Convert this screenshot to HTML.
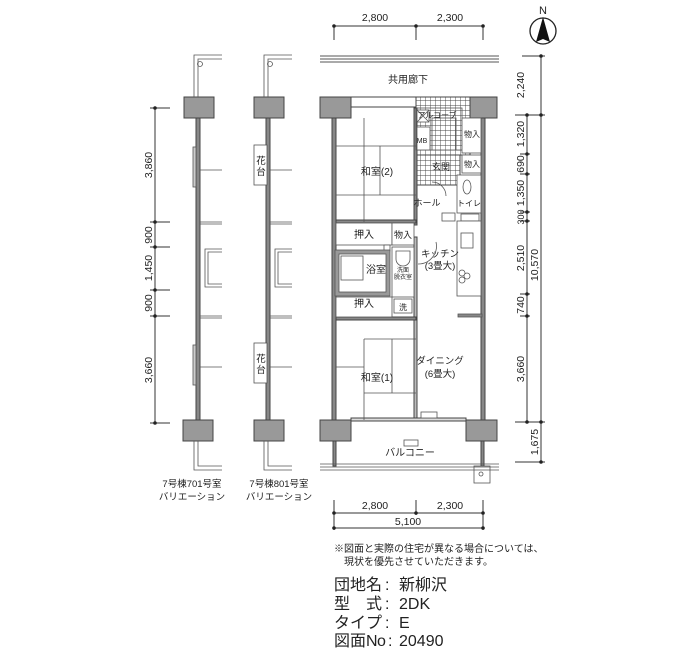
<!DOCTYPE html><html><head><meta charset="utf-8"><style>body{margin:0;background:#fff}svg{display:block}text{font-family:"Liberation Sans","Noto Sans CJK JP",sans-serif;fill:#222}</style></head><body>
<svg width="700" height="650" viewBox="0 0 700 650" xmlns="http://www.w3.org/2000/svg">
<defs><pattern id="g" width="5" height="5" patternUnits="userSpaceOnUse"><rect width="5" height="5" fill="#fff"/><path d="M0 0H5M0 0V5" stroke="#444" stroke-width="0.9"/></pattern></defs>
<g stroke="#333" stroke-width="1" fill="none">
<path d="M334 26H483M334 26V40M416 26V40M483 26V40"/>
<path d="M320 56H499M320 59H499M320 62H499" stroke="#555"/>
<path d="M527 115V422M541 56V462M522 56H545M515 115H545M515 422H545M515 462H545"/>
<path d="M520 154H530M520 174H530M520 212H530M520 221H530M520 294H530M520 316H530"/>
<path d="M334 513H483M334 528H483M334 500V530M416 500V515M483 500V530"/>
<path d="M155 108V423M150 108H170M150 222H170M150 247H170M150 290H170M150 316H170M150 423H170"/>
</g>
<g fill="#222">
<circle cx="334" cy="26" r="1.8"/><circle cx="416" cy="26" r="1.8"/><circle cx="483" cy="26" r="1.8"/>
<circle cx="334" cy="513" r="1.8"/><circle cx="416" cy="513" r="1.8"/><circle cx="483" cy="513" r="1.8"/><circle cx="334" cy="528" r="1.8"/><circle cx="483" cy="528" r="1.8"/>
<circle cx="541" cy="56" r="1.8"/><circle cx="541" cy="115" r="1.8"/><circle cx="541" cy="422" r="1.8"/><circle cx="541" cy="462" r="1.8"/>
<circle cx="527" cy="115" r="1.8"/><circle cx="527" cy="154" r="1.8"/><circle cx="527" cy="174" r="1.8"/><circle cx="527" cy="212" r="1.8"/><circle cx="527" cy="221" r="1.8"/><circle cx="527" cy="294" r="1.8"/><circle cx="527" cy="316" r="1.8"/><circle cx="527" cy="422" r="1.8"/>
<circle cx="155" cy="108" r="1.8"/><circle cx="155" cy="222" r="1.8"/><circle cx="155" cy="247" r="1.8"/><circle cx="155" cy="290" r="1.8"/><circle cx="155" cy="316" r="1.8"/><circle cx="155" cy="423" r="1.8"/>
</g>
<g font-size="10.5" text-anchor="middle">
<text x="375" y="21">2,800</text><text x="450" y="21">2,300</text>
<text x="375" y="509">2,800</text><text x="450" y="509">2,300</text><text x="408" y="525">5,100</text>
<text transform="translate(524,85) rotate(-90)">2,240</text>
<text transform="translate(524,134) rotate(-90)">1,320</text>
<text transform="translate(524,164) rotate(-90)">690</text>
<text transform="translate(524,193) rotate(-90)">1,350</text>
<text transform="translate(524,217) rotate(-90)" font-size="9">300</text>
<text transform="translate(524,258) rotate(-90)">2,510</text>
<text transform="translate(538,265) rotate(-90)">10,570</text>
<text transform="translate(524,305) rotate(-90)">740</text>
<text transform="translate(524,369) rotate(-90)">3,660</text>
<text transform="translate(538,442) rotate(-90)">1,675</text>
<text transform="translate(152,165) rotate(-90)">3,860</text>
<text transform="translate(152,235) rotate(-90)">900</text>
<text transform="translate(152,268) rotate(-90)">1,450</text>
<text transform="translate(152,303) rotate(-90)">900</text>
<text transform="translate(152,370) rotate(-90)">3,660</text>
</g>
<circle cx="543" cy="31" r="13" fill="none" stroke="#222" stroke-width="1.3"/>
<path d="M543 17L536 42L543 39L550 42Z" fill="#111"/>
<text x="543" y="14" font-size="11" text-anchor="middle">N</text>

<g stroke="#444" stroke-width="1">
<rect x="320" y="97" width="31" height="21" fill="#999"/>
<rect x="470" y="97" width="27" height="21" fill="#999"/>
<rect x="320" y="420" width="31" height="21" fill="#999"/>
<rect x="466" y="420" width="31" height="21" fill="#999"/>
<rect x="351" y="97" width="65" height="10" fill="#fff"/>
<rect x="416" y="97" width="54" height="58" fill="url(#g)"/>
<rect x="416" y="155" width="44" height="30" fill="url(#g)"/>
<rect x="332" y="118" width="4" height="302" fill="#888"/>
<rect x="481" y="118" width="4" height="302" fill="#888"/>
<rect x="414" y="108" width="3" height="117" fill="#888"/>
<rect x="336" y="220" width="80" height="3" fill="#888"/>
<rect x="414" y="237" width="3" height="183" fill="#bbb"/>
<rect x="336" y="317" width="80" height="3" fill="#888"/>
<rect x="351" y="418" width="115" height="3" fill="#ddd"/>
<rect x="333" y="441" width="3" height="25" fill="#888"/>
<rect x="481" y="441" width="3" height="25" fill="#888"/>
</g>
<g stroke="#555" stroke-width="0.8" fill="#fff">
<rect x="416" y="108" width="46" height="42" fill="none"/>
<rect x="417" y="110" width="12" height="12"/><path d="M417 110L429 122M429 110L417 122"/>
<rect x="417" y="127" width="13" height="23"/>
<rect x="432" y="118" width="24" height="32" fill="url(#g)"/>
<rect x="462" y="118" width="19" height="35"/>
<rect x="462" y="155" width="19" height="18"/>
<rect x="457" y="175" width="24" height="38"/>
<ellipse cx="467" cy="187" rx="4" ry="7"/>
<rect x="442" y="213" width="13" height="8"/><rect x="461" y="214" width="18" height="7"/>
<rect x="457" y="221" width="24" height="75"/><rect x="461" y="233" width="12" height="15"/>
<circle cx="462" cy="273" r="3"/><circle cx="467" cy="276" r="3"/><circle cx="462" cy="280" r="3"/>
<rect x="458" y="314" width="24" height="3" fill="#888"/>
<rect x="336" y="223" width="56" height="22"/><rect x="392" y="223" width="22" height="22"/>
<rect x="384" y="245" width="6" height="6"/>
<rect x="335" y="250" width="55" height="46" fill="#999"/>
<rect x="339" y="254" width="47" height="38"/>
<rect x="341" y="256" width="22" height="24"/>
<rect x="392" y="247" width="22" height="50"/>
<path d="M396 251h14v8a7 7 0 0 1-14 0z"/>
<rect x="336" y="297" width="56" height="20"/>
<rect x="394" y="299" width="18" height="14"/>
<rect x="421" y="412" width="16" height="6"/>
<rect x="404" y="440" width="14" height="6"/>
<rect x="474" y="466" width="16" height="17"/><circle cx="481" cy="474" r="2"/>
<path d="M320 464H499M320 467H499M320 470H499" fill="none"/>
<path d="M364 118V222M336 146H416M336 195H416M380 146V195M364 339H416M336 367H364M364 339V420M392 339V393M364 393H416" fill="none"/>
<path d="M432 182a14 14 0 0 1 14 14M418 264a18 18 0 0 0 18-22" fill="none"/>
</g>
<g font-size="10" text-anchor="middle">
<text x="408" y="83">共用廊下</text>
<text x="377" y="175">和室(2)</text>
<text x="377" y="381">和室(1)</text>
<text x="437" y="118" font-size="8">アルコーブ</text>
<text x="422" y="143" font-size="7">MB</text>
<text x="472" y="137" font-size="8">物入</text>
<text x="472" y="167" font-size="8">物入</text>
<text x="441" y="170" font-size="9">玄関</text>
<text x="427" y="206" font-size="9">ホール</text>
<text x="469" y="206" font-size="8">トイレ</text>
<text x="364" y="238">押入</text>
<text x="403" y="238" font-size="9">物入</text>
<text x="376" y="273">浴室</text>
<text x="403" y="272" font-size="6">洗面</text><text x="403" y="279" font-size="6">脱衣室</text>
<text x="364" y="307">押入</text>
<text x="403" y="310" font-size="8">洗</text>
<text x="440" y="257" font-size="9.5">キッチン</text>
<text x="440" y="269" font-size="9.5">(3畳大)</text>
<text x="440" y="364" font-size="9.5">ダイニング</text>
<text x="440" y="377" font-size="9.5">(6畳大)</text>
<text x="410" y="456">バルコニー</text>
</g>

<g stroke="#444" stroke-width="1">
<rect x="184" y="97" width="30" height="21" fill="#999"/>
<rect x="254" y="97" width="30" height="21" fill="#999"/>
<rect x="183" y="420" width="30" height="21" fill="#999"/>
<rect x="254" y="420" width="30" height="21" fill="#999"/>
<rect x="196" y="118" width="4" height="302" fill="#888"/>
<rect x="266" y="118" width="4" height="302" fill="#888"/>
</g>
<g stroke="#555" stroke-width="0.8" fill="none">
<path d="M194 97V55H222M198 97V59H222M264 97V55H292M268 97V59H292"/>
<path d="M194 441V470H222M198 441V466H222M264 441V470H292M268 441V466H292"/>
<circle cx="200" cy="64" r="2.5"/><circle cx="270" cy="64" r="2.5"/>
<rect x="193" y="147" width="3" height="40" fill="#ccc"/><rect x="193" y="345" width="3" height="40" fill="#ccc"/>
<rect x="254" y="145" width="13" height="40" fill="#fff"/><rect x="254" y="343" width="13" height="40" fill="#fff"/>
<path d="M200 170H222M200 367H222M270 170H292M270 367H292"/>
<path d="M200 222H222M200 224H222M200 316H222M200 318H222M270 222H292M270 224H292M270 316H292M270 318H292"/>
<path d="M222 249H205V287H222M222 252H208V284H222M292 249H275V287H292M292 252H278V284H292"/>
</g>
<g font-size="9.5" text-anchor="middle">
<text x="261" y="164">花</text><text x="261" y="175">台</text>
<text x="261" y="362">花</text><text x="261" y="373">台</text>
<text x="192" y="487">7号棟701号室</text><text x="192" y="500">バリエーション</text>
<text x="279" y="487">7号棟801号室</text><text x="279" y="500">バリエーション</text>
</g>

<g font-size="10">
<text x="334" y="552">※図面と実際の住宅が異なる場合については、</text>
<text x="344" y="565">現状を優先させていただきます。</text>
</g>
<g font-size="16">
<text x="334" y="590">団地名</text><text x="385" y="590">:</text><text x="399" y="590">新柳沢</text>
<text x="334" y="609">型</text><text x="366" y="609">式</text><text x="385" y="609">:</text><text x="399" y="609">2DK</text>
<text x="334" y="628">タイプ</text><text x="385" y="628">:</text><text x="399" y="628">E</text>
<text x="334" y="646">図面</text><text x="366" y="646" style="font-family:'Liberation Sans',sans-serif">N</text><text x="377" y="646" style="font-family:'Liberation Sans',sans-serif">o</text><text x="388" y="646">:</text><text x="399" y="646">20490</text>
</g>
</svg>
</body></html>
